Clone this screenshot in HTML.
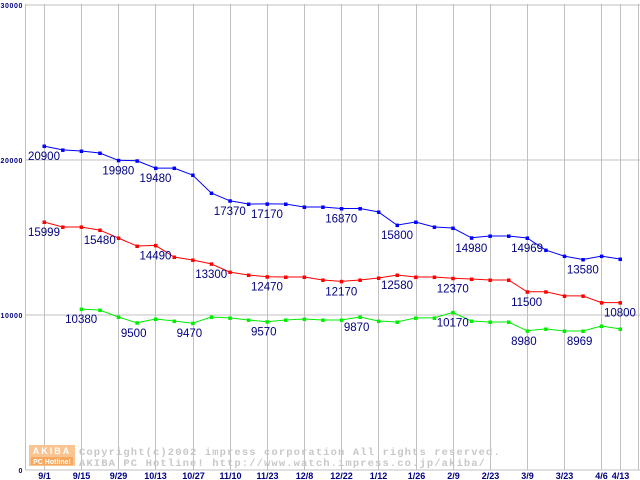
<!DOCTYPE html>
<html><head><meta charset="utf-8"><style>
html,body{margin:0;padding:0;background:#fff;}
svg{display:block;}
</style></head><body>
<svg id="chart" width="640" height="480" viewBox="0 0 640 480" xmlns="http://www.w3.org/2000/svg" font-family="Liberation Sans, sans-serif">
<g id="grid"></g>
<g id="watermark">
  <rect x="29" y="445" width="46" height="21" fill="#f9c490"/>
  <text x="52" y="454" text-anchor="middle" font-size="9" font-weight="bold" fill="#fff" letter-spacing="2">AKIBA</text>
  <rect x="31" y="457" width="42" height="8" fill="#f6a860"/>
  <text x="52" y="464" text-anchor="middle" font-size="7" font-weight="bold" fill="#fff">PC Hotline!</text>
  <text x="79" y="455" font-family="Liberation Mono, monospace" font-size="10.5" font-weight="bold" fill="#c8c8c8" letter-spacing="1.1">Copyright(c)2002 impress corporation All rights reserved.</text>
  <text x="79" y="466" font-family="Liberation Mono, monospace" font-size="10.5" font-weight="bold" fill="#c8c8c8" letter-spacing="1.1">AKIBA PC Hotline!  http://www.watch.impress.co.jp/akiba/</text>
</g>
<g id="series"></g>
</svg>
<script>
const categories = ["9/1","9/8","9/15","9/22","9/29","10/6","10/13","10/20","10/27","11/3","11/10","11/17","11/23","12/1","12/8","12/15","12/22","12/29","1/5","1/12","1/19","1/26","2/2","2/9","2/16","2/23","3/2","3/9","3/16","3/23","4/6","4/13"];
const tickIndices = [0,2,4,6,8,10,12,14,16,18,20,22,24,26,28,30,31];
const tickLabels = ["9/1","9/15","9/29","10/13","10/27","11/10","11/23","12/8","12/22","1/12","1/26","2/9","2/23","3/9","3/23","4/6","4/13"];
const yTicks = [0,10000,20000,30000];
const blueValues = [20900,20650,20580,20450,19980,19950,19480,19480,19030,17870,17370,17160,17170,17160,16970,16970,16870,16870,16650,15800,16000,15680,15610,14980,15100,15100,14969,14190,13800,13580,13800,13610];
const redValues = [15999,15680,15680,15480,14970,14450,14490,13740,13550,13300,12770,12580,12470,12450,12450,12260,12170,12260,12390,12580,12450,12450,12370,12320,12260,12260,11500,11500,11230,11230,10800,10800];
const greenValues = [null,null,10380,10320,9870,9500,9740,9610,9470,9870,9810,9680,9570,9680,9740,9680,9680,9870,9610,9550,9810,9810,10170,9610,9550,9550,8980,9100,8970,8969,9290,9100];
const blueLabelIdx = [0,4,6,10,12,16,19,23,26,29];
const redLabelIdx = [0,3,6,9,12,16,19,22,26,31];
const greenLabelIdx = [2,5,8,12,17,22,26,29];

const NS="http://www.w3.org/2000/svg";
function xs(i){return 44 + i*18.58;}
function ys(v){return 470 - v/30000*465;}
function mk(tag, attrs, parent){const e=document.createElementNS(NS,tag);for(const k in attrs)e.setAttribute(k,attrs[k]);parent.appendChild(e);return e;}
const grid=document.getElementById('grid');
yTicks.forEach(v=>{
  const l=mk('line',{x1:25,x2:640,y1:ys(v),y2:ys(v),stroke:'#c0c0c0','stroke-width':1},grid);
  
  
  const t=mk('text',{x:23,y:Math.max(ys(v)+3,8),'text-anchor':'end','font-size':7,'font-weight':'bold',fill:'#000080','letter-spacing':'0.6'},grid);
  t.textContent=String(v);
  
  
});
const ax=mk('line',{x1:25.5,x2:25.5,y1:4,y2:470,stroke:'#c0c0c0'},grid);


const rx=mk('line',{x1:638.5,x2:638.5,y1:4,y2:470,stroke:'#c0c0c0'},grid);


tickIndices.forEach((i,k)=>{
  const x=Math.round(xs(i))+0.5;
  const l=mk('line',{x1:x,x2:x,y1:4,y2:470,stroke:'#c0c0c0'},grid);
  
  
  const t=mk('text',{x:x,y:479,'text-anchor':'middle','font-size':9,'font-weight':'bold',fill:'#000080'},grid);
  t.textContent=tickLabels[k];
  
  
});
const ser=document.getElementById('series');
function drawSeries(vals,color,name,labelIdx){
  const g=mk('g',{},ser);
  
  
  let pts=[];
  vals.forEach((v,i)=>{if(v!=null)pts.push(xs(i).toFixed(1)+','+ys(v).toFixed(1));});
  const p=mk('polyline',{points:pts.join(' '),fill:'none',stroke:color,'stroke-width':1},g);
  
  
  vals.forEach((v,i)=>{
    if(v==null)return;
    const r=mk('rect',{x:xs(i)-1.5,y:ys(v)-1.5,width:3.5,height:3.5,fill:color},g);
    
    
  });
  labelIdx.forEach(i=>{
    const t=mk('text',{x:xs(i)-16,y:ys(vals[i])+14,'font-size':11.5,fill:'#000080'},g);
    t.textContent=String(vals[i]);
    
    
  });
}
drawSeries(blueValues,'#0000ff','blue',blueLabelIdx);
drawSeries(redValues,'#ff0000','red',redLabelIdx);
drawSeries(greenValues,'#00ee00','green',greenLabelIdx);
</script>
</body></html>
